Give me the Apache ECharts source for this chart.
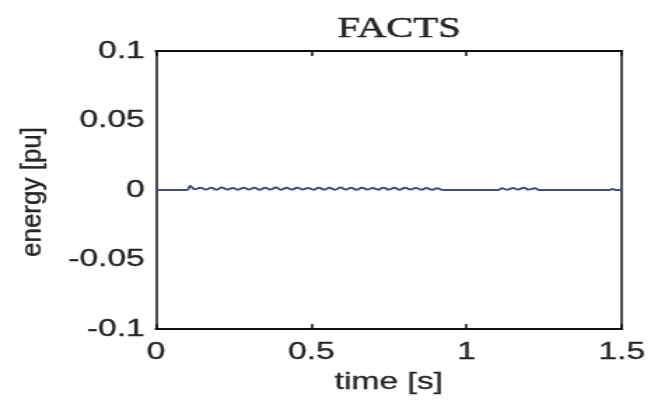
<!DOCTYPE html>
<html>
<head>
<meta charset="utf-8">
<script src="https://cdn.jsdelivr.net/npm/echarts@6/dist/echarts.min.js"></script>
<style>
  html, body { margin: 0; padding: 0; background: #fff; overflow: hidden; }
  #wrap { width: 650px; height: 405px; overflow: hidden; }
  /* the figure is drawn narrow and widened horizontally */
  #chart { width: 464px; height: 405px; transform: scaleX(1.4); transform-origin: 0 0; }
</style>
</head>
<body>
<div id="wrap"><div id="chart"></div></div>
<script>
// time samples [s]
const time = [
  0, 0.1, 0.11, 0.125,
  0.143, 0.160, 0.178, 0.195, 0.212, 0.230, 0.247, 0.264, 0.282, 0.299,
  0.316, 0.334, 0.351, 0.368, 0.386, 0.403, 0.420, 0.438, 0.455, 0.472,
  0.490, 0.507, 0.524, 0.542, 0.559, 0.576, 0.594, 0.611, 0.628, 0.646,
  0.663, 0.680, 0.698, 0.715, 0.732, 0.750, 0.767, 0.784, 0.802, 0.819,
  0.836, 0.854, 0.871, 0.888, 0.905, 0.922,
  0.93, 1.10, 1.115, 1.13, 1.15, 1.165, 1.185, 1.20, 1.22, 1.235,
  1.46, 1.47, 1.48, 1.5
];
// energy [pu]
const energy = [
  0, 0, 0.0028, 0.0005,
  0.0017, 0.0003, 0.0016, 0.0002, 0.0018, 0.0004, 0.0015, 0.0002, 0.0017, 0.0003,
  0.0016, 0.0002, 0.0017, 0.0003, 0.0018, 0.0002, 0.0016, 0.0003, 0.0017, 0.0004,
  0.0015, 0.0002, 0.0017, 0.0003, 0.0016, 0.0002, 0.0018, 0.0003, 0.0016, 0.0002,
  0.0017, 0.0003, 0.0015, 0.0002, 0.0017, 0.0003, 0.0016, 0.0002, 0.0017, 0.0003,
  0.0015, 0.0002, 0.0014, 0.0002, 0.0012, 0.0001,
  0, 0, 0.0012, 0.0002, 0.0015, 0.0003, 0.0016, 0.0003, 0.0012, 0,
  0, 0.0008, 0, 0
];
const xTicks = [0, 0.5, 1, 1.5];
const yTicks = [-0.1, -0.05, 0, 0.05, 0.1];

const points = time.map((t, i) => [t, energy[i]]);

const chart = echarts.init(document.getElementById('chart'), null, { renderer: 'canvas' });
const sans = 'Liberation Sans, Arial, sans-serif';
const ink = '#262626';
const axisFont = { fontFamily: sans, fontSize: 24, color: ink, textBorderColor: ink, textBorderWidth: 0.3 };
const frame = { color: '#111', width: 2 };
const frameV = { color: '#111', width: 1.5 };

chart.setOption({
  animation: false,
  backgroundColor: '#fff',
  title: {
    text: 'FACTS',
    left: 280,
    top: 10,
    textAlign: 'center',
    textStyle: {
      fontFamily: 'Liberation Serif, Times New Roman, serif', fontWeight: 'normal', fontSize: 29,
      color: '#262626', textBorderColor: '#262626', textBorderWidth: 0.45
    }
  },
  grid: { left: 111.4, right: 19.3, top: 51, bottom: 76 },
  xAxis: [{
    type: 'value',
    min: xTicks[0], max: xTicks[xTicks.length - 1], interval: 0.5,
    name: 'time [s]', nameLocation: 'middle', nameGap: 41,
    nameTextStyle: axisFont,
    axisLine: { show: true, onZero: false, lineStyle: frame },
    axisTick: { inside: true, length: 5, lineStyle: { color: '#111', width: 1.5 } },
    axisLabel: Object.assign({ margin: 11 }, axisFont),
    splitLine: { show: false }
  }, {
    type: 'value', position: 'top',
    min: xTicks[0], max: xTicks[xTicks.length - 1], interval: 0.5,
    axisLine: { show: true, onZero: false, lineStyle: frame },
    axisTick: { inside: true, length: 5, lineStyle: { color: '#111', width: 1.5 } },
    axisLabel: { show: false },
    splitLine: { show: false }
  }],
  yAxis: [{
    type: 'value',
    min: yTicks[0], max: yTicks[yTicks.length - 1], interval: 0.05,
    axisLine: { show: true, onZero: false, lineStyle: frameV },
    axisTick: { show: false },
    axisLabel: Object.assign({ margin: 8 }, axisFont),
    splitLine: { show: false }
  }, {
    type: 'value', position: 'right',
    min: yTicks[0], max: yTicks[yTicks.length - 1], interval: 0.05,
    axisLine: { show: true, onZero: false, lineStyle: frameV },
    axisTick: { show: false },
    axisLabel: { show: false },
    splitLine: { show: false }
  }],
  // vertical axis title, drawn tall and narrow
  graphic: [{
    type: 'text',
    x: 23,
    y: 192,
    rotation: Math.PI / 2,
    scaleX: 1.3,
    style: {
      text: 'energy [pu]',
      font: '20px ' + sans,
      fill: ink,
      stroke: ink,
      lineWidth: 0.3,
      align: 'center',
      verticalAlign: 'middle'
    }
  }],
  series: [{
    type: 'line',
    data: points,
    showSymbol: false,
    smooth: 0.4,
    lineStyle: { color: '#474c80', width: 2 }
  }]
});
</script>
</body>
</html>
